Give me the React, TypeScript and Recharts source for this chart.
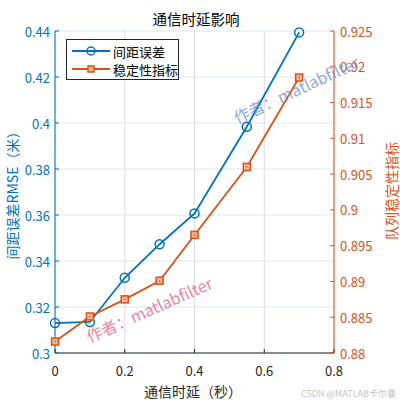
import { LineChart, Line, XAxis, YAxis, CartesianGrid } from "recharts";

const delays = [0, 0.1, 0.2, 0.3, 0.4, 0.55, 0.7];
const spacingRmse = [0.313, 0.3135, 0.3327, 0.3473, 0.3607, 0.3984, 0.4394];
const stability = [0.8816, 0.8851, 0.8875, 0.8901, 0.8965, 0.906, 0.9185];

const xTicks = [0, 0.2, 0.4, 0.6, 0.8];
const leftTicks = [0.3, 0.32, 0.34, 0.36, 0.38, 0.4, 0.42, 0.44];
const rightTicks = [0.88, 0.885, 0.89, 0.895, 0.9, 0.905, 0.91, 0.915, 0.92, 0.925];

const data = delays.map((d, i) => ({ delay: d, rmse: spacingRmse[i], stab: stability[i] }));

const BLUE = "#0072BD";
const ORANGE = "#D95319";
const DARK = "#262626";
const FONT = "'Noto Sans CJK SC', 'Noto Sans', sans-serif";

function LeftTick(p: any) {
  const ax = p.x + 5;
  return (
    <g>
      <line x1={ax} x2={ax + 4} y1={p.y} y2={p.y} stroke={BLUE} />
      <text x={p.x} y={p.y} textAnchor="end" dominantBaseline="central" fill={BLUE} fontSize={13} fontFamily={FONT}>
        {String(p.payload.value)}
      </text>
    </g>
  );
}

function RightTick(p: any) {
  const ax = p.x - 6;
  return (
    <g>
      <line x1={ax} x2={ax - 4} y1={p.y} y2={p.y} stroke={ORANGE} />
      <text x={p.x} y={p.y} textAnchor="start" dominantBaseline="central" fill={ORANGE} fontSize={13} fontFamily={FONT}>
        {String(p.payload.value)}
      </text>
    </g>
  );
}

function BottomTick(p: any) {
  const ay = p.y - 17;
  return (
    <g>
      <line x1={p.x} x2={p.x} y1={ay} y2={ay - 4} stroke={DARK} />
      <text x={p.x} y={p.y} textAnchor="middle" dominantBaseline="central" fill={DARK} fontSize={13} fontFamily={FONT}>
        {String(p.payload.value)}
      </text>
    </g>
  );
}

function TopTick(p: any) {
  return <line x1={p.x} x2={p.x} y1={p.y} y2={p.y + 4} stroke="#000" />;
}

function CircleDot(p: any) {
  if (p.cx == null || p.cy == null) return null;
  return <circle cx={p.cx} cy={p.cy} r={4.5} fill="none" stroke={BLUE} strokeWidth={1.5} />;
}

function SquareDot(p: any) {
  if (p.cx == null || p.cy == null) return null;
  return (
    <g>
      <rect x={p.cx - 3.5} y={p.cy - 3.5} width={7} height={7} fill="#f2b795" stroke={ORANGE} strokeWidth={1.5} />
      <circle cx={p.cx} cy={p.cy} r={0.8} fill={ORANGE} />
    </g>
  );
}

export default function App() {
  return (
    <div style={{ position: "absolute", left: 0, top: 0, width: 400, height: 400, background: "#fff", fontFamily: FONT }}>
      <LineChart width={400} height={400} data={data} margin={{ top: 31, right: 0, bottom: 0, left: 0 }}>
        <CartesianGrid xAxisId="bottom" yAxisId="left" vertical={false} stroke="#d9e8f4" />
        <CartesianGrid xAxisId="bottom" yAxisId="left" horizontal={false} stroke="#dcdcdc" />
        <XAxis
          xAxisId="bottom"
          dataKey="delay"
          type="number"
          domain={[0, 0.8]}
          ticks={xTicks}
          height={47}
          tickSize={0}
          tickMargin={17}
          tickLine={false}
          tick={<BottomTick />}
          axisLine={{ stroke: DARK }}
          interval={0}
        />
        <XAxis
          xAxisId="top"
          orientation="top"
          dataKey="delay"
          type="number"
          domain={[0, 0.8]}
          ticks={xTicks}
          height={0}
          tickSize={0}
          tickMargin={0}
          tickLine={false}
          tick={<TopTick />}
          axisLine={{ stroke: "#000" }}
          interval={0}
        />
        <YAxis
          yAxisId="left"
          type="number"
          domain={[0.3, 0.44]}
          ticks={leftTicks}
          width={55}
          tickSize={0}
          tickMargin={5}
          tickLine={false}
          tick={<LeftTick />}
          axisLine={{ stroke: BLUE }}
          interval={0}
        />
        <YAxis
          yAxisId="right"
          orientation="right"
          type="number"
          domain={[0.88, 0.925]}
          ticks={rightTicks}
          width={66}
          tickSize={0}
          tickMargin={6}
          tickLine={false}
          tick={<RightTick />}
          axisLine={{ stroke: ORANGE }}
          interval={0}
        />
        <Line
          xAxisId="bottom"
          yAxisId="left"
          dataKey="rmse"
          stroke={BLUE}
          strokeWidth={1.8}
          dot={<CircleDot />}
          activeDot={false}
          isAnimationActive={false}
        />
        <Line
          xAxisId="bottom"
          yAxisId="right"
          dataKey="stab"
          stroke={ORANGE}
          strokeWidth={1.8}
          dot={<SquareDot />}
          activeDot={false}
          isAnimationActive={false}
        />
      </LineChart>

      <svg width={400} height={400} style={{ position: "absolute", left: 0, top: 0, pointerEvents: "none" }}>
        <text x={196} y={18} textAnchor="middle" dominantBaseline="central" fontSize={14.5} fill="#000" fontFamily={FONT}>
          通信时延影响
        </text>
        <text x={193} y={391} textAnchor="middle" dominantBaseline="central" fontSize={14} fill={DARK} fontFamily={FONT}>
          通信时延（秒）
        </text>
        <text
          transform="translate(12,192) rotate(-90)"
          textAnchor="middle"
          dominantBaseline="central"
          fontSize={14}
          fill={BLUE}
          fontFamily={FONT}
        >
          间距误差RMSE（米）
        </text>
        <text
          transform="translate(391,191) rotate(-90)"
          textAnchor="middle"
          dominantBaseline="central"
          fontSize={14}
          fill={ORANGE}
          fontFamily={FONT}
        >
          队列稳定性指标
        </text>
        <text
          transform="translate(149,309) rotate(-24)"
          textAnchor="middle"
          dominantBaseline="central"
          fontSize={16}
          fill="#f06a8a"
          fillOpacity={0.85}
          fontFamily={FONT}
        >
          作者：matlabfilter
        </text>
        <text
          transform="translate(296,89) rotate(-25)"
          textAnchor="middle"
          dominantBaseline="central"
          fontSize={16}
          fill="#6f8fd6"
          fillOpacity={0.8}
          fontFamily={FONT}
        >
          作者：matlabfilter
        </text>
        <text x={396} y={393} textAnchor="end" dominantBaseline="central" fontSize={9} fill="#c4c4c4" fontFamily={FONT}>
          CSDN @MATLAB卡尔曼
        </text>

        <rect x={66.5} y={39.5} width={112} height={40} fill="#fff" stroke="#262626" strokeWidth={1} />
        <line x1={72} x2={110} y1={51} y2={51} stroke={BLUE} strokeWidth={1.8} />
        <circle cx={91} cy={51} r={4} fill="none" stroke={BLUE} strokeWidth={1.5} />
        <text x={113} y={51} dominantBaseline="central" fontSize={13} fill="#000" fontFamily={FONT}>
          间距误差
        </text>
        <line x1={72} x2={110} y1={69} y2={69} stroke={ORANGE} strokeWidth={1.8} />
        <rect x={88} y={66} width={6} height={6} fill="#f2b795" stroke={ORANGE} strokeWidth={1.5} />
        <text x={113} y={69} dominantBaseline="central" fontSize={13} fill="#000" fontFamily={FONT}>
          稳定性指标
        </text>
      </svg>
    </div>
  );
}
